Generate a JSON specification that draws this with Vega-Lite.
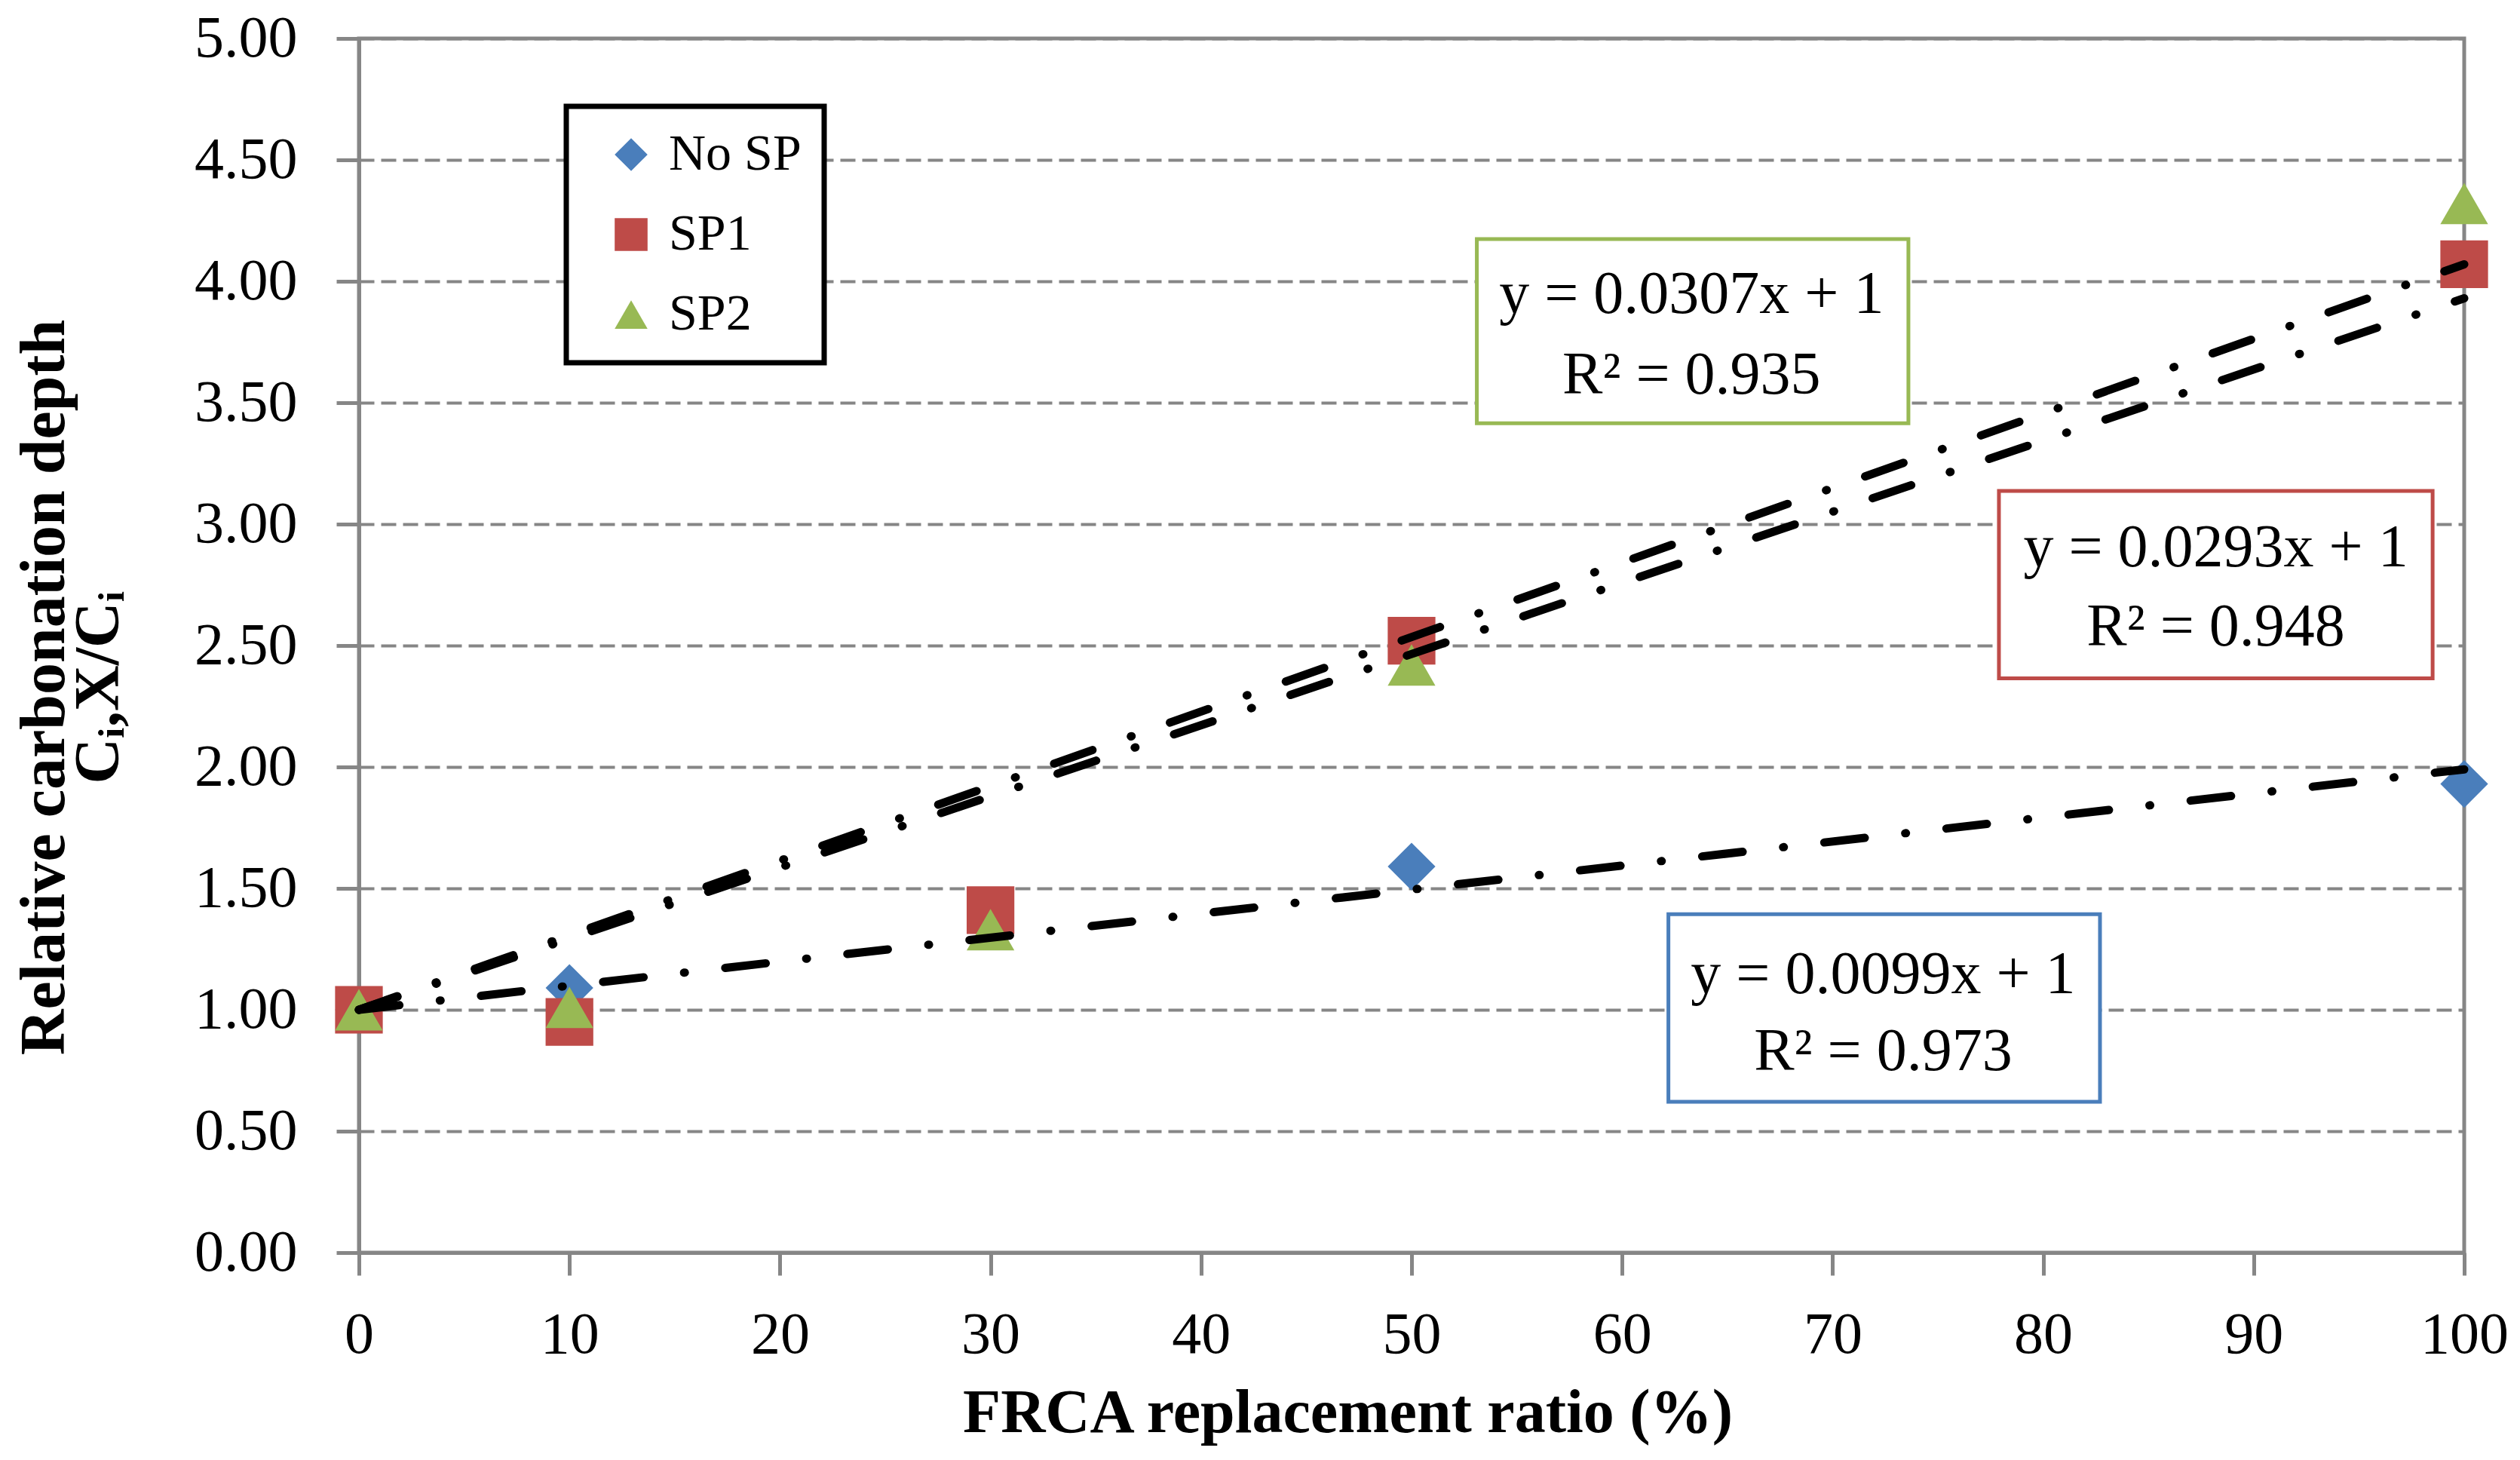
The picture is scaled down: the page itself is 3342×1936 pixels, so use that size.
{
  "$schema": "https://vega.github.io/schema/vega-lite/v6.json",
  "width": 2792,
  "height": 1610,
  "autosize": {"type": "none"},
  "padding": {"left": 476, "top": 51, "right": 74, "bottom": 275},
  "background": "white",
  "config": {
    "view": {"stroke": "#868686", "strokeWidth": 5},
    "axis": {
      "domainColor": "#868686", "domainWidth": 5,
      "tickColor": "#868686", "tickWidth": 5, "tickSize": 30,
      "gridColor": "#868686", "gridWidth": 4, "gridDash": [20, 9],
      "labelFont": "Liberation Serif", "labelFontSize": 78, "labelColor": "black", "labelFlush": false,
      "titleFont": "Liberation Serif", "titleFontSize": 82, "titleFontWeight": "bold", "titleColor": "black"
    }
  },
  "datasets": {
    "pts": [
      {"series": "No SP", "x": 0, "y": 1.00},
      {"series": "No SP", "x": 10, "y": 1.09},
      {"series": "No SP", "x": 30, "y": 1.36},
      {"series": "No SP", "x": 50, "y": 1.59},
      {"series": "No SP", "x": 100, "y": 1.93},
      {"series": "SP1", "x": 0, "y": 1.00},
      {"series": "SP1", "x": 10, "y": 0.95},
      {"series": "SP1", "x": 30, "y": 1.41},
      {"series": "SP1", "x": 50, "y": 2.52},
      {"series": "SP1", "x": 100, "y": 4.07},
      {"series": "SP2", "x": 0, "y": 1.00},
      {"series": "SP2", "x": 10, "y": 1.01},
      {"series": "SP2", "x": 30, "y": 1.33},
      {"series": "SP2", "x": 50, "y": 2.42},
      {"series": "SP2", "x": 100, "y": 4.32}
    ],
    "trend": [
      {"series": "No SP", "x": 0, "y": 1},
      {"series": "No SP", "x": 100, "y": 1.99},
      {"series": "SP1", "x": 0, "y": 1},
      {"series": "SP1", "x": 100, "y": 3.93},
      {"series": "SP2", "x": 0, "y": 1},
      {"series": "SP2", "x": 100, "y": 4.07}
    ],
    "boxes": [
      {"series": "SP2", "x1": 53.1, "x2": 73.6, "y1": 3.415, "y2": 4.174},
      {"series": "SP1", "x1": 77.9, "x2": 98.5, "y1": 2.365, "y2": 3.137},
      {"series": "No SP", "x1": 62.2, "x2": 82.7, "y1": 0.621, "y2": 1.394}
    ],
    "labels": [
      {"series": "SP2", "x": 63.3, "y": 3.943, "text": "y = 0.0307x + 1"},
      {"series": "SP2", "x": 63.3, "y": 3.613, "text": "R² = 0.935"},
      {"series": "SP1", "x": 88.2, "y": 2.90, "text": "y = 0.0293x + 1"},
      {"series": "SP1", "x": 88.2, "y": 2.576, "text": "R² = 0.948"},
      {"series": "No SP", "x": 72.4, "y": 1.143, "text": "y = 0.0099x + 1"},
      {"series": "No SP", "x": 72.4, "y": 0.826, "text": "R² = 0.973"}
    ]
  },
  "layer": [
    {
      "data": {"name": "pts"},
      "mark": {"type": "point", "filled": true, "size": 4000, "opacity": 1, "strokeWidth": 0},
      "encoding": {
        "x": {
          "field": "x", "type": "quantitative",
          "scale": {"domain": [0, 100], "nice": false},
          "axis": {
            "values": [0, 10, 20, 30, 40, 50, 60, 70, 80, 90, 100],
            "grid": false, "labelPadding": 40,
            "title": "FRCA replacement ratio (%)",
            "titleX": 1311, "titleY": 237, "titleAlign": "center", "titleBaseline": "alphabetic"
          }
        },
        "y": {
          "field": "y", "type": "quantitative",
          "scale": {"domain": [0, 5], "nice": false},
          "axis": {
            "values": [0, 0.5, 1, 1.5, 2, 2.5, 3, 3.5, 4, 4.5, 5],
            "format": ".2f", "grid": true, "labelPadding": 52,
            "title": ["Relative carbonation depth", "Cᵢ,X/Cᵢ"],
            "titleFontSize": 84,
            "titleX": -392, "titleY": 860, "titleAngle": -90,
            "titleAlign": "center", "titleBaseline": "alphabetic", "titleLineHeight": 72
          }
        },
        "color": {
          "field": "series", "type": "nominal",
          "scale": {"domain": ["No SP", "SP1", "SP2"], "range": ["#4A7EBB", "#BE4B48", "#98B954"]},
          "legend": {
            "title": null, "orient": "none", "legendX": 275, "legendY": 90,
            "strokeColor": "black", "fillColor": "white", "padding": 30,
            "symbolOffset": 22, "symbolSize": 1900, "symbolStrokeWidth": 0, "symbolOpacity": 1,
            "labelFont": "Liberation Serif", "labelFontSize": 68, "labelColor": "black",
            "labelOffset": 16, "rowPadding": 38, "labelLimit": 600,
            "encode": {"legend": {"update": {"strokeWidth": {"value": 7}}}}
          }
        },
        "shape": {
          "field": "series", "type": "nominal",
          "scale": {"domain": ["No SP", "SP1", "SP2"], "range": ["diamond", "square", "triangle-up"]}
        }
      }
    },
    {
      "data": {"name": "trend"},
      "mark": {"type": "line", "color": "black", "strokeWidth": 11, "strokeDash": [54, 54, 1, 54], "strokeCap": "round"},
      "encoding": {
        "x": {"field": "x", "type": "quantitative"},
        "y": {"field": "y", "type": "quantitative"},
        "detail": {"field": "series", "type": "nominal"}
      }
    },
    {
      "data": {"name": "boxes"},
      "mark": {"type": "rect", "fill": "white", "strokeWidth": 5},
      "encoding": {
        "x": {"field": "x1", "type": "quantitative"},
        "x2": {"field": "x2"},
        "y": {"field": "y1", "type": "quantitative"},
        "y2": {"field": "y2"},
        "stroke": {
          "field": "series", "type": "nominal",
          "scale": {"domain": ["No SP", "SP1", "SP2"], "range": ["#4A7EBB", "#BE4B48", "#98B954"]},
          "legend": null
        }
      }
    },
    {
      "data": {"name": "labels"},
      "mark": {"type": "text", "font": "Liberation Serif", "fontSize": 80, "align": "center", "baseline": "middle", "color": "black"},
      "encoding": {
        "x": {"field": "x", "type": "quantitative"},
        "y": {"field": "y", "type": "quantitative"},
        "text": {"field": "text", "type": "nominal"}
      }
    }
  ]
}
